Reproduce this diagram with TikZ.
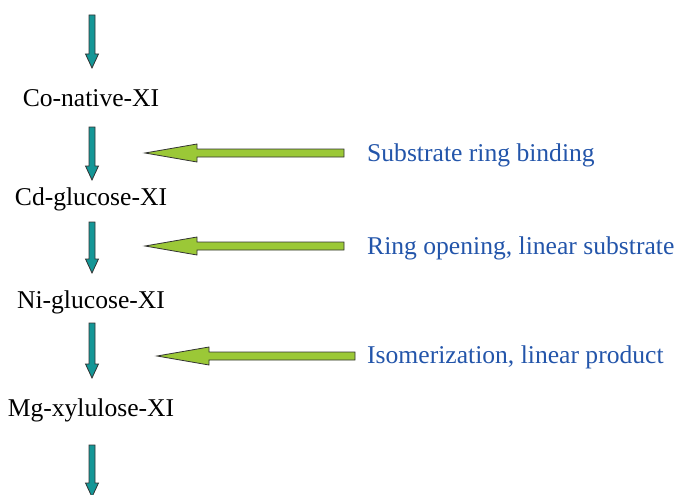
\documentclass[tikz,border=0pt]{standalone}
\usepackage{fontspec}
\setmainfont{Liberation Serif}
\definecolor{tealA}{RGB}{20,150,150}
\definecolor{greenA}{RGB}{155,200,55}
\definecolor{blueT}{RGB}{35,85,170}
\tikzset{
  lbl/.style={inner sep=0pt, font=\fontsize{25.6}{28}\selectfont},
  note/.style={lbl, text=blueT, anchor=west},
  varrow/.style={fill=tealA, draw=black!80, line width=0.8pt, line join=miter},
  harrow/.style={fill=greenA, draw=black!80, line width=0.8pt, line join=miter}
}
\newcommand{\vdownarrow}[3]{% x, ytop, ybottom (image coords)
  \path[varrow] (#1-3,#2) -- (#1+3,#2) -- (#1+3,#3-14) -- (#1+6.5,#3-14) -- (#1,#3) -- (#1-6.5,#3-14) -- (#1-3,#3-14) -- cycle;}
\newcommand{\hleftarrow}[3]{% xtip, xright, y
  \path[harrow] (#2,#3-4) -- (#2,#3+4) -- (#1+52,#3+4) -- (#1+52,#3+9) -- (#1,#3) -- (#1+52,#3-9) -- (#1+52,#3-4) -- cycle;}
\begin{document}
\begin{tikzpicture}[x=1pt,y=-1pt]
\useasboundingbox (0,0) rectangle (677,495);
\vdownarrow{92}{15}{68}
\vdownarrow{92}{127}{180}
\vdownarrow{92}{222}{273}
\vdownarrow{92}{323}{378}
\vdownarrow{92}{445}{497}
\node[lbl] (co) at (91,98) {Co-native-XI};
\node[lbl] (cd) at (91,199) {Cd-glucose-XI};
\node[lbl] (ni) at (91,302) {Ni-glucose-XI};
\node[lbl] (mg) at (91,410) {Mg-xylulose-XI};
\hleftarrow{145}{344}{153}
\hleftarrow{145}{344}{246}
\hleftarrow{157}{355}{356}
\node[note] (n1) at (367,155) {Substrate ring binding};
\node[note] (n2) at (367,248) {Ring opening, linear substrate};
\node[note] (n3) at (367,357) {Isomerization, linear product};
\end{tikzpicture}
\end{document}
